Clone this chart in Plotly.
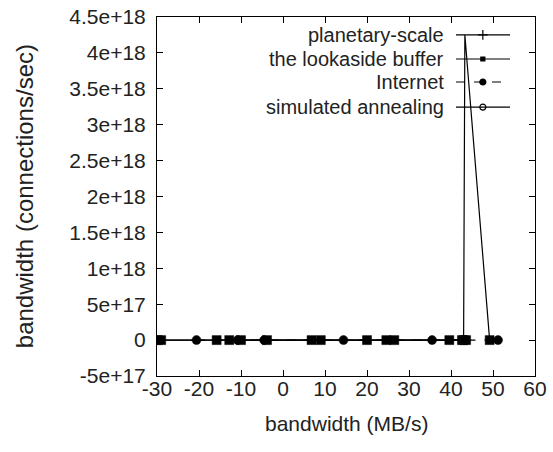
import plotly.graph_objects as go

# ---- data ----
series_names = ["planetary-scale", "the lookaside buffer", "Internet", "simulated annealing"]

planetary_x = [-29.8, -15.8, 6.8, 24.6, 43.0, 43.3, 49.2]
planetary_y = [0, 0, 0, 0, 0, 4.25e18, 0]

lookaside_x = [-29.0, -12.8, 9.0, 26.5, 43.6]
lookaside_y = [0, 0, 0, 0, 0]

internet_x = [-20.6, -10.8, -4.5, 14.4, 35.5, 51.2]
internet_y = [0, 0, 0, 0, 0, 0]

annealing_x = [-10.0, -3.8, 20.0, 39.6, 42.6]
annealing_y = [0, 0, 0, 0, 0]

x_tickvals = [-30, -20, -10, 0, 10, 20, 30, 40, 50, 60]
x_ticktext = ["-30", "-20", "-10", "0", "10", "20", "30", "40", "50", "60"]
y_tickvals = [-5e17, 0, 5e17, 1e18, 1.5e18, 2e18, 2.5e18, 3e18, 3.5e18, 4e18, 4.5e18]
y_ticktext = ["-5e+17", "0", "5e+17", "1e+18", "1.5e+18", "2e+18", "2.5e+18",
              "3e+18", "3.5e+18", "4e+18", "4.5e+18"]

FONT = "Liberation Sans, Arial, Helvetica, sans-serif"
TXT = "#222222"

fig = go.Figure()

data_sets = [
    (planetary_x, planetary_y, "square", "solid"),
    (lookaside_x, lookaside_y, "square", "solid"),
    (internet_x, internet_y, "circle", "dash"),
    (annealing_x, annealing_y, "square", "solid"),
]
for name, (xs, ys, sym, dash) in zip(series_names, data_sets):
    # hide the marker on the lone non-zero point (it is drawn as a thin peak)
    sizes = [0 if v != 0 else 9 for v in ys]
    fig.add_trace(go.Scatter(
        x=xs, y=ys, mode="lines+markers", name=name, showlegend=False,
        line=dict(color="black", width=1.2, dash=dash),
        marker=dict(symbol=sym, size=sizes, color="black", opacity=1,
                    line=dict(color="black", width=0.5)),
    ))

# ---- custom gnuplot-style legend (text right, sample on the right) ----
leg_rows = [0.950, 0.883, 0.819, 0.749]
leg_line_x = [0.791, 0.934]
leg_mark_x = 0.862
leg_text_x = 0.765
leg_symbols = ["cross-thin-open", "square", "circle", "circle-open"]
leg_sizes = [7, 4, 6, 6]
leg_dash = ["solid", "solid", "dash", "solid"]

for name, yy, sym, sz, dash in zip(series_names, leg_rows, leg_symbols, leg_sizes, leg_dash):
    fig.add_trace(go.Scatter(
        x=leg_line_x, y=[yy, yy], mode="lines", xaxis="x2", yaxis="y2",
        showlegend=False, hoverinfo="skip",
        line=dict(color="black", width=1.2, dash=dash),
    ))
    fig.add_trace(go.Scatter(
        x=[leg_mark_x], y=[yy], mode="markers", xaxis="x2", yaxis="y2",
        showlegend=False, hoverinfo="skip",
        marker=dict(symbol=sym, size=sz, color="black", opacity=1,
                    line=dict(color="black", width=1.2)),
    ))
    fig.add_annotation(x=leg_text_x, y=yy, xref="x2", yref="y2", text=name,
                       showarrow=False, xanchor="right", yanchor="middle",
                       font=dict(family=FONT, size=20, color=TXT))

axis_common = dict(
    showline=True, linecolor="black", linewidth=1, mirror="ticks",
    ticks="inside", ticklen=6, tickcolor="black", showgrid=False, zeroline=False,
    tickfont=dict(family=FONT, size=21, color=TXT), automargin=False,
)

fig.update_layout(
    width=553, height=452,
    margin=dict(l=157, r=18, t=17, b=76, autoexpand=False),
    paper_bgcolor="white", plot_bgcolor="white",
    showlegend=False,
    xaxis=dict(range=[-30, 60], tickvals=x_tickvals, ticktext=x_ticktext,
               ticklabelstandoff=-6, **axis_common),
    yaxis=dict(range=[-5e17, 4.5e18], tickvals=y_tickvals, ticktext=y_ticktext,
               ticklabelstandoff=6, **axis_common),
    xaxis2=dict(overlaying="x", range=[0, 1], visible=False),
    yaxis2=dict(overlaying="y", range=[0, 1], visible=False),
)

fig.add_annotation(x=0.5, y=-0.131, xref="paper", yref="paper",
                   text="bandwidth (MB/s)", showarrow=False,
                   xanchor="center", yanchor="middle",
                   font=dict(family=FONT, size=21, color=TXT))
fig.add_annotation(x=-0.35, y=0.5, xref="paper", yref="paper",
                   text="bandwidth (connections/sec)", textangle=-90, showarrow=False,
                   xanchor="center", yanchor="middle",
                   font=dict(family=FONT, size=24, color=TXT))

fig.write_html("out.html")
